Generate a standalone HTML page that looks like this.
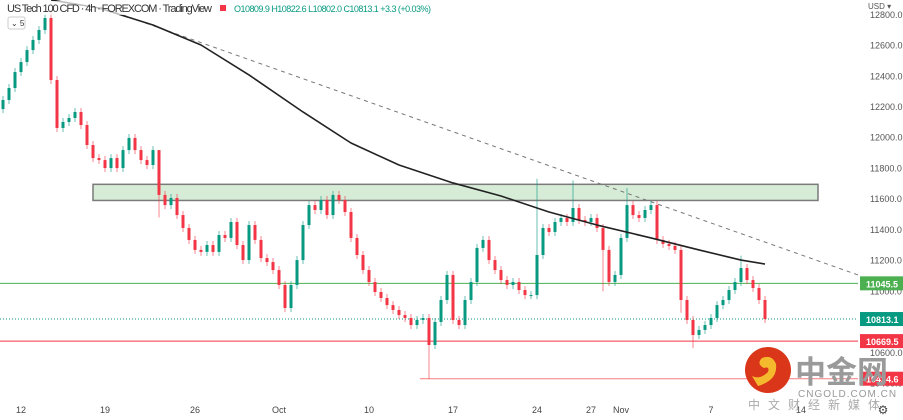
<!DOCTYPE html>
<html><head><meta charset="utf-8"><style>
body{margin:0;background:#fff;width:903px;height:420px;overflow:hidden;font-family:"Liberation Sans","Noto Sans CJK SC",sans-serif}
svg{position:absolute;left:0;top:0}
</style></head><body>
<svg id="c" width="903" height="420" xmlns="http://www.w3.org/2000/svg"></svg>
<script>
const closes=[12239,12317,12421,12486,12564,12630,12695,12773,12369,12057,12096,12122,12161,12076,11946,11861,11848,11796,11861,11796,11913,11992,11913,11848,11816,11913,11621,11555,11601,11490,11406,11328,11263,11250,11295,11250,11360,11341,11445,11295,11197,11425,11328,11210,11184,11132,11035,10885,11035,11197,11425,11555,11523,11588,11490,11621,11588,11510,11341,11230,11132,11054,10989,10950,10904,10872,10839,10820,10774,10807,10820,10644,10794,10937,11100,10807,10774,10937,11054,11276,11328,11197,11132,11067,11035,11054,11002,10969,10969,11230,11406,11380,11445,11471,11445,11536,11458,11445,11471,11406,11263,11054,11100,11341,11555,11490,11471,11523,11555,11328,11302,11289,11263,10937,10807,10709,10742,10774,10820,10904,10937,11002,11054,11145,11067,11015,10937,10813];
const firstOpen=12180;
const extremeLows={71:10449,26:11500,113:10880,115:10650,100:11020};
const extremeHighs={26:11700,8:12800,89:11700,95:11690,104:11640,123:11200};
const maBars=[8,16,25,33,41,50,58,66,75,83,91,99,108,116,123,127];
const maValues=[12890,12838,12727,12597,12402,12161,11959,11816,11699,11614,11510,11425,11341,11263,11197,11171];
const trendPrices=[12845,11100];
const zone=[11690,11585];
const levels=[11045.5,10813.1,10669.5,10424.6];
const yTicks=[12800,12600,12400,12200,12000,11800,11600,11400,11200,11000,10600,10400];
const xLabels=["12","19","26","Oct","10","17","24","27","Nov","7","14"];
const xLabelBars=[3,17,32,46,61,75,89,98,103,118,133];

const NS="http://www.w3.org/2000/svg";
const svg=document.getElementById('c');
const Y=v=>(12890-v)/6.51;
const X=i=>3+6*i;
function el(t,a,p){const e=document.createElementNS(NS,t);for(const k in a)e.setAttribute(k,a[k]);(p||svg).appendChild(e);return e;}
const UP="#089981",DN="#f23645";

const z=el('rect',{x:93,y:Y(zone[0]),width:725,height:Y(zone[1])-Y(zone[0]),fill:"#d7ecd7",stroke:"#7a7a7a","stroke-width":1.5});


let l=el('line',{x1:0,x2:858,y1:Y(levels[0]),y2:Y(levels[0]),stroke:"#4caf50","stroke-width":1});

l=el('line',{x1:0,x2:858,y1:Y(levels[1]),y2:Y(levels[1]),stroke:"#089981","stroke-width":1,"stroke-dasharray":"1 2"});

l=el('line',{x1:0,x2:858,y1:Y(levels[2]),y2:Y(levels[2]),stroke:DN,"stroke-width":1});

l=el('line',{x1:420,x2:858,y1:Y(levels[3]),y2:Y(levels[3]),stroke:"#f77c80","stroke-width":1});


l=el('line',{x1:100,x2:858,y1:Y(trendPrices[0]),y2:Y(trendPrices[1]),stroke:"#777","stroke-width":1,"stroke-dasharray":"4 4"});


for(let i=0;i<closes.length;i++){
 const o=i?closes[i-1]:firstOpen,c=closes[i];
 const col=c>=o?UP:DN;
 const hi=extremeHighs[i]!==undefined?extremeHighs[i]:Math.max(o,c);
 const lo=extremeLows[i]!==undefined?extremeLows[i]:Math.min(o,c);
 const x=X(i);
 const w=el('line',{x1:x,x2:x,y1:Y(hi)-4,y2:Y(lo)+4,stroke:col,"stroke-width":1,opacity:0.6});
 
 const top=Y(Math.max(o,c)),bh=Math.max(1,Y(Math.min(o,c))-top);
 const b=el('rect',{x:x-1.5,y:top,width:3,height:bh,fill:col});
 
}

let d="";maBars.forEach((b,k)=>{d+=(k?"L":"M")+X(b)+","+Y(maValues[k]);});
const ma=el('path',{d:d,fill:"none",stroke:"#222","stroke-width":1.6,"stroke-linejoin":"round"});


yTicks.forEach(v=>{const t=el('text',{x:870,y:Y(v)+4,"font-size":9,fill:"#555"});t.textContent=v.toFixed(1);
});
let t=el('text',{x:868,y:9,"font-size":8,fill:"#555"});t.textContent="USD ▾";


const lc=["#4caf50","#089981",DN,DN];
levels.forEach((v,k)=>{const g=el('g',{});
 el('rect',{x:860,y:Y(v)-7,width:43,height:14,fill:lc[k]},g);
 const tt=el('text',{x:866,y:Y(v)+4,"font-size":9,fill:"#fff","font-weight":"bold"},g);tt.textContent=v.toFixed(1);});

xLabels.forEach((s,k)=>{const tt=el('text',{x:X(xLabelBars[k]),y:413,"font-size":9,fill:"#444","text-anchor":"middle"});tt.textContent=s;
 });
t=el('text',{x:883,y:414,"font-size":12,fill:"#444","text-anchor":"middle"});t.textContent="⚙";


const h=el('g',{});
el('rect',{x:0,y:1,width:460,height:14,fill:"#fff",opacity:0.7},h);
t=el('text',{x:7,y:12,"font-size":11,fill:"#333",textLength:205},h);t.textContent="US Tech 100 CFD · 4h · FOREXCOM · TradingView";
el('rect',{x:220,y:5,width:6,height:6,fill:DN},h);
t=el('text',{x:234,y:12,"font-size":9,fill:"#089981",textLength:197},h);t.textContent="O10809.9 H10822.6 L10802.0 C10813.1 +3.3 (+0.03%)";
const bx=el('g',{});
el('rect',{x:8,y:17,width:17,height:12,rx:2,fill:"#fff",stroke:"#ccc"},bx);
t=el('text',{x:11,y:26,"font-size":8,fill:"#333"},bx);t.textContent="⌄ 5";

const wm=el('g',{});
el('circle',{cx:768,cy:370,r:23,fill:"#d9361a"},wm);
el('path',{d:"M758,386 Q778,380 776,364 Q772,354 762,358 Q756,364 764,368 Q770,366 768,372 Q760,380 752,376 Z",fill:"#f5b92e"},wm);
t=el('text',{x:795,y:383,"font-size":31,"font-weight":"bold",fill:"#9a9a9a"},wm);t.textContent="中金网";
t=el('text',{x:798,y:397,"font-size":10,fill:"#999","letter-spacing":"1"},wm);t.textContent="CNGOLD.COM.CN";
t=el('text',{x:748,y:409,"font-size":12,fill:"#aaa","letter-spacing":"8"},wm);t.textContent="中文财经新媒体";
</script>
</body></html>
